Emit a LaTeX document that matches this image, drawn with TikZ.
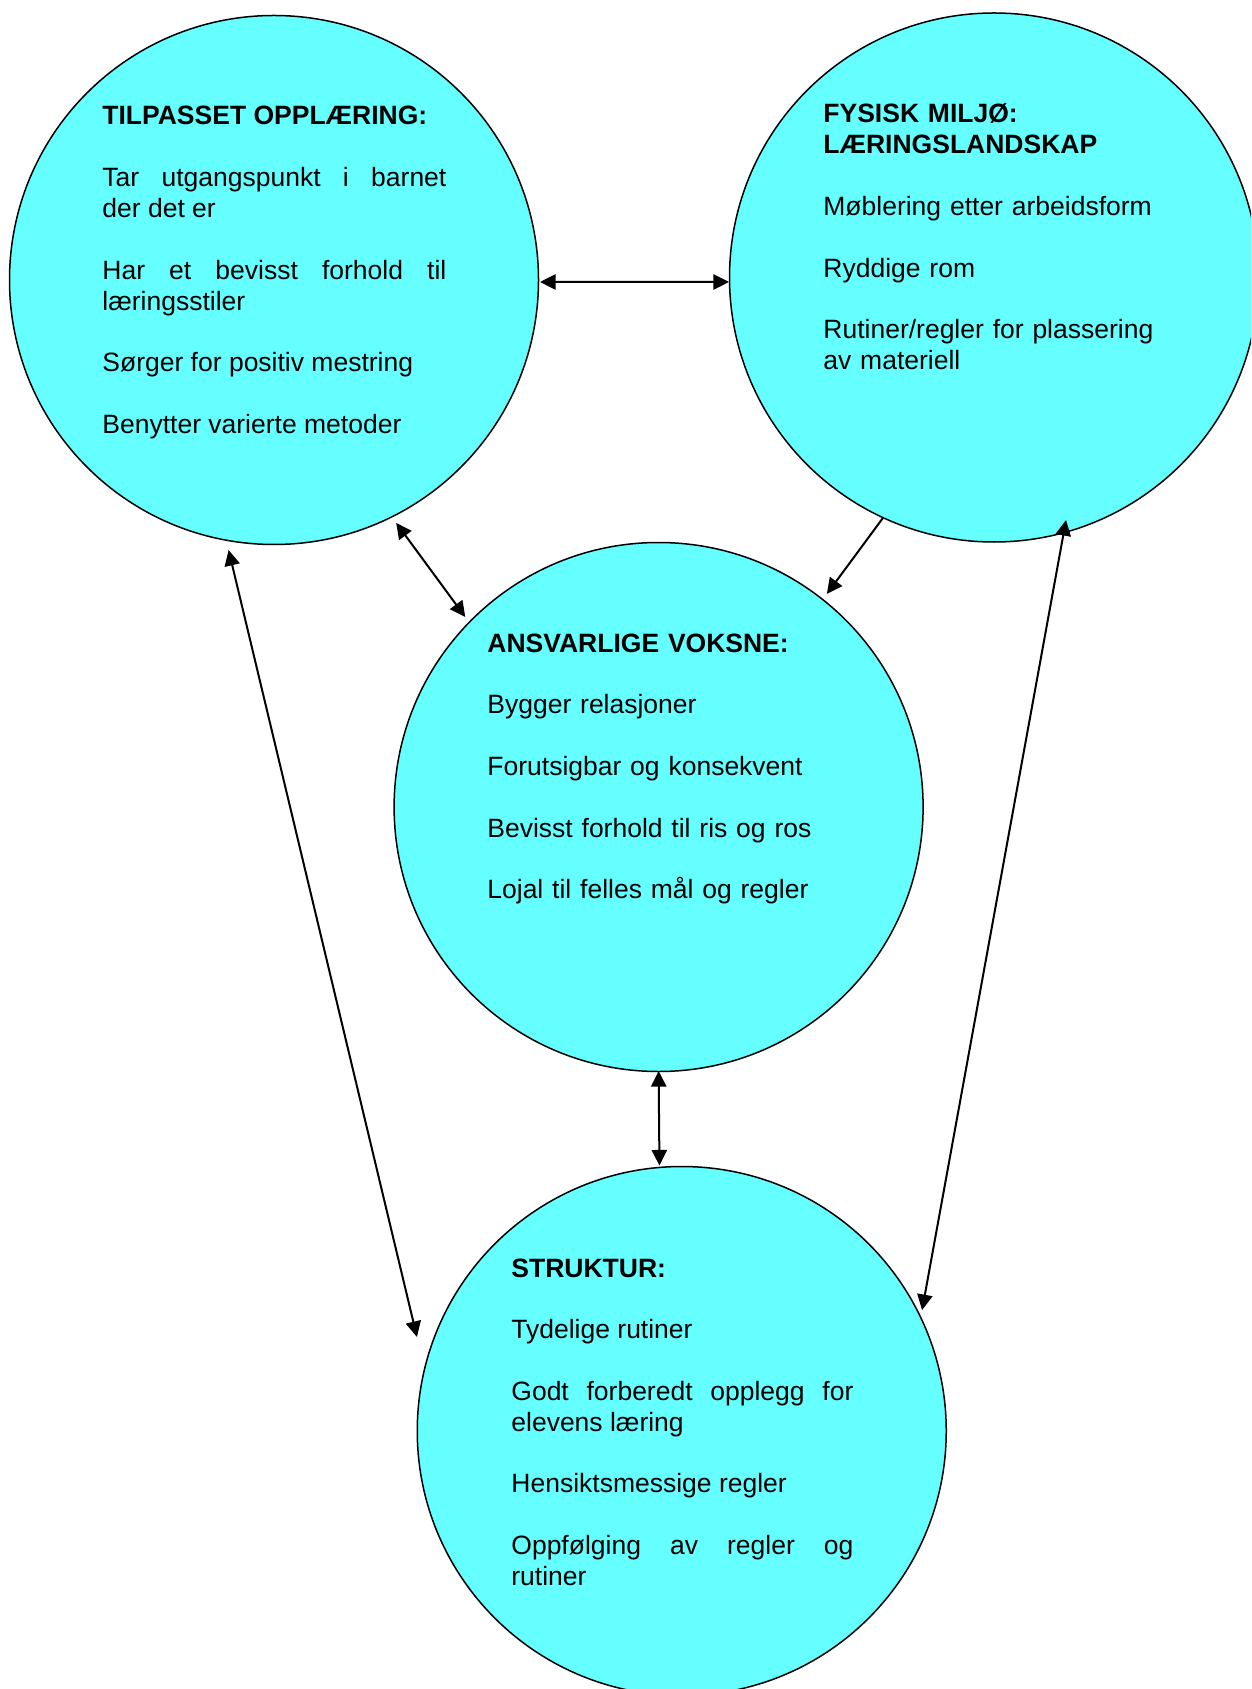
\documentclass[tikz,border=0pt]{standalone}
\usepackage{fontspec}
\setmainfont{Liberation Sans}
\usetikzlibrary{arrows.meta}
\definecolor{cfill}{HTML}{66FFFF}
\newcommand{\gapline}{\par\vspace{15.42pt}}
\begin{document}
\begin{tikzpicture}[x=0.5pt,y=-0.5pt,
  bubble/.style={circle, draw=black, line width=0.75pt, fill=cfill, minimum size=264.5pt, inner sep=0pt},
  txt/.style={anchor=base west, inner sep=0pt, font=\fontsize{13.25pt}{15.42pt}\selectfont},
  jtxt/.style={txt, text width=172pt, align=justify},
  ltxt/.style={txt, text width=200pt, align=left},
  tip/.tip={Triangle[length=7.8pt,width=7.6pt]},
  link/.style={line width=1pt, tip-tip},
  onelink/.style={line width=1pt, -tip}
]
\useasboundingbox (0,0) rectangle (1251,1689);
\clip (0,0) rectangle (1251,1689);

\node[bubble] (tl) at (274,280) {};
\node[bubble] (tr) at (994,277.5) {};
\node[bubble] (m) at (658.6,807) {};
\node[bubble] (b) at (681.75,1431) {};

\node[jtxt] (tltext) at (102,125) {\textbf{TILPASSET OPPLÆRING:}\gapline
Tar utgangspunkt i barnet\linebreak der det er\gapline
Har et bevisst forhold til\linebreak læringsstiler\gapline
Sørger for positiv mestring\gapline
Benytter varierte metoder};

\node[ltxt] (trtext) at (823,123) {\textbf{FYSISK MILJØ:}\par
\textbf{LÆRINGSLANDSKAP}\gapline
Møblering etter arbeidsform\gapline
Ryddige rom\gapline
Rutiner/regler for plassering\par
av materiell};

\node[ltxt] (mtext) at (487,652) {\textbf{ANSVARLIGE VOKSNE:}\gapline
Bygger relasjoner\gapline
Forutsigbar og konsekvent\gapline
Bevisst forhold til ris og ros\gapline
Lojal til felles mål og regler};

\node[jtxt, text width=171pt] (btext) at (511,1277) {\textbf{STRUKTUR:}\gapline
Tydelige rutiner\gapline
Godt forberedt opplegg for\linebreak elevens læring\gapline
Hensiktsmessige regler\gapline
Oppfølging av regler og\linebreak rutiner};

\draw[link] ([shift={(-0.43:133pt)}]tl.center) -- ([shift={(180.97:132.5pt)}]tr.center);
\draw[link] ([shift={(-63.3:135.95pt)}]tl.center) -- ([shift={(135.5:135.5pt)}]m.center);
\draw[onelink] ([shift={(-114.8:132.5pt)}]tr.center) -- ([shift={(51.7:135.75pt)}]m.center);
\draw[link] ([shift={(-90:132pt)}]m.center) -- ([shift={(94.8:133.2pt)}]b.center);
\draw[link] ([shift={(-99.55:136.9pt)}]tl.center) -- ([shift={(160.45:140.5pt)}]b.center);
\draw[link] ([shift={(-73.46:126.5pt)}]tr.center) -- ([shift={(26.7:134.5pt)}]b.center);
\end{tikzpicture}
\end{document}
